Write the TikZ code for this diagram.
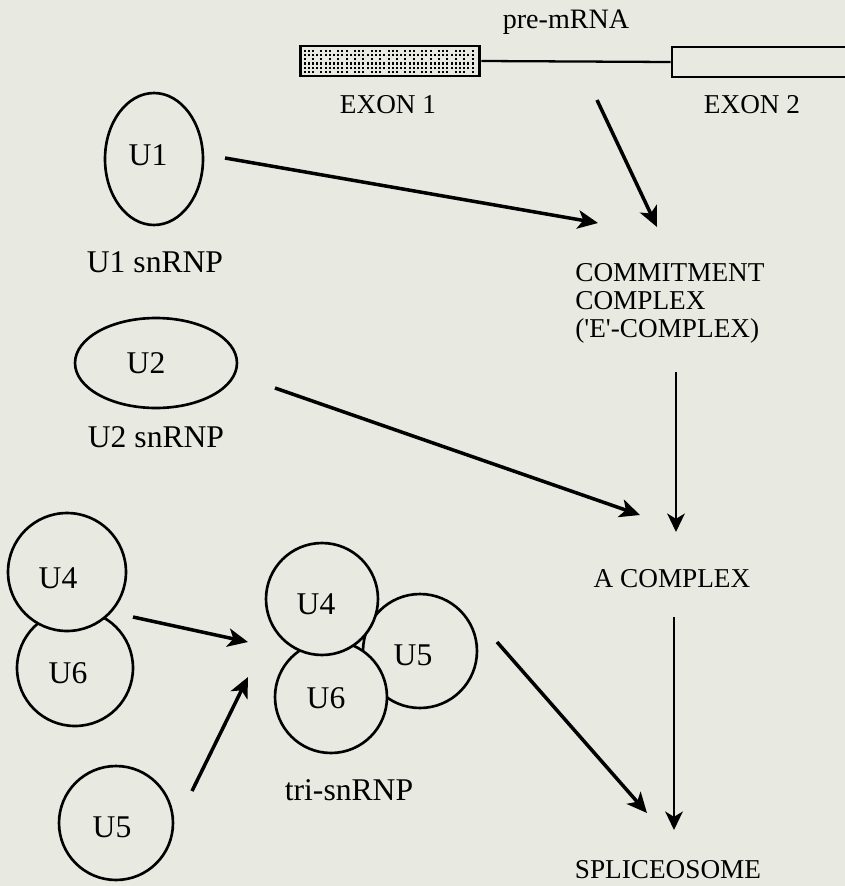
\documentclass[tikz,border=0pt]{standalone}
\usepackage{fontspec}
\setmainfont{Liberation Serif}
\usetikzlibrary{arrows.meta,shapes.geometric}
\definecolor{paper}{RGB}{232,233,224}
\begin{document}
\begin{tikzpicture}[x=0.02cm,y=-0.02cm,
  lab/.style={font=\fontsize{18}{21}\selectfont, inner sep=0},
  captext/.style={font=\fontsize{15.5}{15.9}\selectfont, inner sep=0},
  ring/.style={circle, draw, line width=1.5pt, fill=paper, inner sep=0},
  oval/.style={ellipse, draw, line width=1.5pt, inner sep=0},
  arr/.style={line width=2pt, -{Stealth[length=11.5pt,width=10.5pt,inset=3pt]}},
  varr/.style={line width=1.4pt, -{Stealth[length=10.5pt,width=10pt,inset=3pt]}},
  exonbox/.style={draw, inner sep=0, minimum height=0.6cm}
]
\fill[paper] (0,0) rectangle (845,886);
\useasboundingbox (0,0) rectangle (845,886);
\clip (0,0) rectangle (845,886);

% pre-mRNA
\node[exonbox, line width=1.7pt, minimum width=3.6cm] (ex1) at (390,61) {};
\foreach \r/\y in {1/50.5,2/54.8,3/59.1,4/63.4,5/67.7,6/72}{
  \foreach \c in {0,...,40}{
    \pgfmathtruncatemacro\keep{(\r==1 || \r==6) ? (mod(\c,4)!=3) : ((\r==3) ? (mod(\c,2)==0) : 1)}
    \ifnum\keep=1 \fill (304.5+\c*4.2-1,\y-1) rectangle ++(2.1,2.1); \fi
  }
}
\node[exonbox, line width=1.5pt, minimum width=3.76cm] (ex2) at (766,62) {};
\draw[line width=1.3pt] (ex1.east) -- (ex2.west);
\node[captext, font=\fontsize{16}{18}\selectfont, anchor=base] (pre) at (566,28) {pre-mRNA};
\node[captext, anchor=base] (e1t) at (388,113) {EXON 1};
\node[captext, anchor=base] (e2t) at (752,113) {EXON 2};

% U1, U2
\node[oval, minimum width=1.96cm, minimum height=2.64cm,
  label={[lab, xshift=-0.12cm, yshift=0.08cm]center:U1}] (u1) at (154,159) {};
\node[lab, anchor=base] (u1t) at (155,272) {U1 snRNP};
\node[oval, minimum width=3.24cm, minimum height=1.8cm,
  label={[lab, xshift=-0.2cm]center:U2}] (u2) at (156,363) {};
\node[lab, anchor=base] (u2t) at (156,447) {U2 snRNP};

% complexes
\node[captext, anchor=north west, align=left] (comm) at (575,263)
  {COMMITMENT\\COMPLEX\\(\textquotesingle E\textquotesingle-COMPLEX)};
\node[captext, anchor=base] (acx) at (672,587) {A COMPLEX};
\node[captext, anchor=base] (spl) at (668,878) {SPLICEOSOME};

% left U4/U6 and U5
\node[ring, minimum size=2.32cm,
  label={[lab, xshift=-0.14cm, yshift=-0.1cm]center:U6}] (lu6) at (75,668) {};
\node[ring, minimum size=2.36cm,
  label={[lab, xshift=-0.18cm, yshift=-0.12cm]center:U4}] (lu4) at (67,572) {};
\node[ring, minimum size=2.28cm,
  label={[lab, xshift=-0.08cm, yshift=-0.08cm]center:U5}] (lu5) at (116,823) {};

% tri-snRNP
\node[ring, minimum size=2.28cm,
  label={[lab, xshift=-0.14cm, yshift=-0.08cm]center:U5}] (tu5) at (420,651) {};
\node[ring, minimum size=2.24cm,
  label={[lab, xshift=-0.1cm, yshift=-0.02cm]center:U6}] (tu6) at (331,697) {};
\node[ring, minimum size=2.24cm,
  label={[lab, xshift=-0.12cm, yshift=-0.1cm]center:U4}] (tu4) at (322,599) {};
\node[lab, anchor=base] (trit) at (349,800) {tri-snRNP};

% connector end points
\coordinate (preout) at (597,100);
\coordinate (commin1) at (657,227);
\coordinate (u1out) at (225,158);
\coordinate (commin2) at (598,223);
\coordinate (commout) at (676,372);
\coordinate (acxin1) at (676,532);
\coordinate (u2out) at (275,388);
\coordinate (acxin2) at (640,515);
\coordinate (acxout) at (674,617);
\coordinate (splin1) at (674,830);
\coordinate (triout) at (497,642);
\coordinate (splin2) at (647,813);
\coordinate (u46out) at (133,617);
\coordinate (triin1) at (248,642);
\coordinate (u5out) at (192,791);
\coordinate (triin2) at (248,677);

\draw[arr] (preout) -- (commin1);
\draw[arr] (u1out) -- (commin2);
\draw[arr] (u2out) -- (acxin2);
\draw[arr] (u46out) -- (triin1);
\draw[arr] (u5out) -- (triin2);
\draw[arr] (triout) -- (splin2);
\draw[varr] (commout) -- (acxin1);
\draw[varr] (acxout) -- (splin1);
\end{tikzpicture}
\end{document}
